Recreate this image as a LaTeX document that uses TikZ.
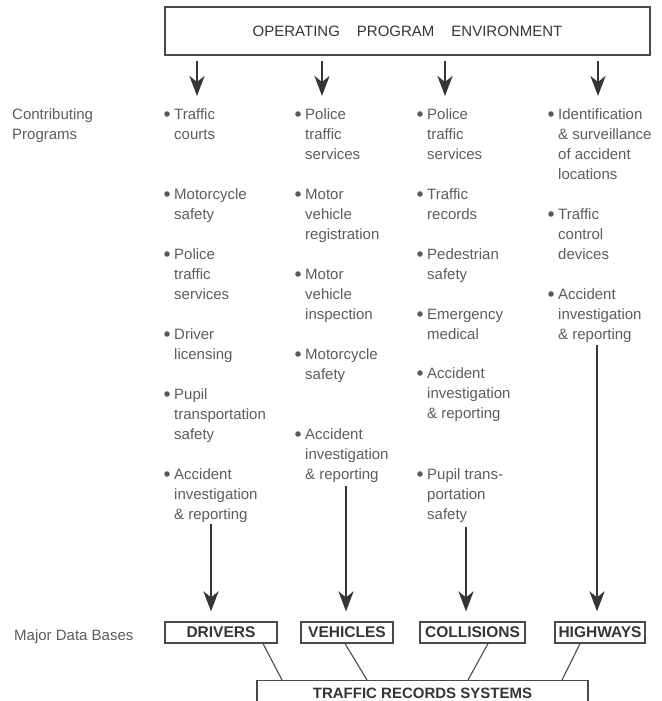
\documentclass[tikz,border=0pt]{standalone}
\usepackage{fontspec}
\setmainfont{Liberation Sans}
\usetikzlibrary{arrows.meta,calc}
\definecolor{txt}{HTML}{5C5C5C}
\definecolor{ink}{HTML}{353535}
\definecolor{boxc}{HTML}{4A4A4A}
\newcommand{\itemlines}[1]{\begin{tabular}[t]{@{}l@{}}#1\end{tabular}}
\tikzset{
  itemtext/.style={anchor=base west, inner sep=0pt, text=txt, font=\fontsize{15}{20}\selectfont},
  bul/.style={fill=txt},
  bigarrow/.style={draw=ink, line width=2.8pt, -{Stealth[length=20pt,width=15pt,inset=6pt]}},
  dbbox/.style={draw=boxc, line width=1.2pt, minimum height=21pt, inner sep=0pt, text=ink,
                font=\fontsize{15.5}{18}\selectfont\bfseries},
  link/.style={draw=boxc, line width=1.1pt},
}
\newcommand{\bulletat}[1]{\fill[bul] ($(#1.base west)+(-7,-5)$) circle (2.8pt);}
\begin{document}
\begin{tikzpicture}[x=1pt,y=-1pt]
\useasboundingbox (0,0) rectangle (661,701);
\clip (0,0) rectangle (661,701);

% top box
\node[draw=boxc, line width=1.3pt, minimum width=485pt, minimum height=48pt, inner sep=0pt,
      text=ink, font=\fontsize{15}{18}\selectfont] (env) at (407.5,31)
  {OPERATING\hspace{17pt}PROGRAM\hspace{17pt}ENVIRONMENT};

% left labels
\node[itemtext] (contrib) at (12,119) {\itemlines{Contributing\\Programs}};
\node[itemtext] (major) at (14,640) {Major Data Bases};

% column 1
\node[itemtext] (c1a) at (174,119) {\itemlines{Traffic\\courts}};
\node[itemtext] (c1b) at (174,199) {\itemlines{Motorcycle\\safety}};
\node[itemtext] (c1c) at (174,259) {\itemlines{Police\\traffic\\services}};
\node[itemtext] (c1d) at (174,339) {\itemlines{Driver\\licensing}};
\node[itemtext] (c1e) at (174,399) {\itemlines{Pupil\\transportation\\safety}};
\node[itemtext] (c1f) at (174,479) {\itemlines{Accident\\investigation\\\& reporting}};

% column 2
\node[itemtext] (c2a) at (305,119) {\itemlines{Police\\traffic\\services}};
\node[itemtext] (c2b) at (305,199) {\itemlines{Motor\\vehicle\\registration}};
\node[itemtext] (c2c) at (305,279) {\itemlines{Motor\\vehicle\\inspection}};
\node[itemtext] (c2d) at (305,359) {\itemlines{Motorcycle\\safety}};
\node[itemtext] (c2e) at (305,439) {\itemlines{Accident\\investigation\\\& reporting}};

% column 3
\node[itemtext] (c3a) at (427,119) {\itemlines{Police\\traffic\\services}};
\node[itemtext] (c3b) at (427,199) {\itemlines{Traffic\\records}};
\node[itemtext] (c3c) at (427,259) {\itemlines{Pedestrian\\safety}};
\node[itemtext] (c3d) at (427,319) {\itemlines{Emergency\\medical}};
\node[itemtext] (c3e) at (427,378) {\itemlines{Accident\\investigation\\\& reporting}};
\node[itemtext] (c3f) at (427,479) {\itemlines{Pupil trans-\\portation\\safety}};

% column 4
\node[itemtext] (c4a) at (558,119) {\itemlines{Identification\\\& surveillance\\of accident\\locations}};
\node[itemtext] (c4b) at (558,219) {\itemlines{Traffic\\control\\devices}};
\node[itemtext] (c4c) at (558,299) {\itemlines{Accident\\investigation\\\& reporting}};

% bullets
\foreach \n in {c1a,c1b,c1c,c1d,c1e,c1f,c2a,c2b,c2c,c2d,c2e,c3a,c3b,c3c,c3d,c3e,c3f,c4a,c4b,c4c}{
  \bulletat{\n}
}

% data base boxes
\node[dbbox, minimum width=112pt] (drivers) at (221,632.5) {DRIVERS};
\node[dbbox, minimum width=92pt] (vehicles) at (347,632.5) {VEHICLES};
\node[dbbox, minimum width=105pt] (collisions) at (472.5,632.5) {COLLISIONS};
\node[dbbox, minimum width=90pt] (highways) at (600,632.5) {HIGHWAYS};

% traffic records systems box
\node[draw=boxc, line width=1.2pt, minimum width=331pt, minimum height=25pt, inner sep=0pt,
      anchor=north, text=ink, font=\fontsize{15}{18}\selectfont\bfseries] (trs) at (422.5,680)
  {TRAFFIC RECORDS SYSTEMS};

% top arrows
\coordinate (ta1) at (197,96);
\coordinate (ta2) at (322,96);
\coordinate (ta3) at (445,96);
\coordinate (ta4) at (598,96);
\foreach \t in {ta1,ta2,ta3,ta4}{
  \draw[bigarrow, shorten <=5pt] (env.south -| \t) -- (\t);
}

% bottom arrows
\coordinate (ba1) at (211,524);
\coordinate (ba2) at (346,486);
\coordinate (ba3) at (466,527);
\coordinate (ba4) at (597,345);
\draw[bigarrow, shorten >=10pt] (ba1) -- (ba1 |- drivers.north);
\draw[bigarrow, shorten >=10pt] (ba2) -- (ba2 |- vehicles.north);
\draw[bigarrow, shorten >=10pt] (ba3) -- (ba3 |- collisions.north);
\draw[bigarrow, shorten >=10pt] (ba4) -- (ba4 |- highways.north);

% links to traffic records systems
\draw[link] ([xshift=42pt]drivers.south) -- ([xshift=-140.5pt]trs.north);
\draw[link] ([xshift=-2pt]vehicles.south) -- ([xshift=-55.5pt]trs.north);
\draw[link] ([xshift=15.5pt]collisions.south) -- ([xshift=45.5pt]trs.north);
\draw[link] ([xshift=-20pt]highways.south) -- ([xshift=139.5pt]trs.north);
\end{tikzpicture}
\end{document}
